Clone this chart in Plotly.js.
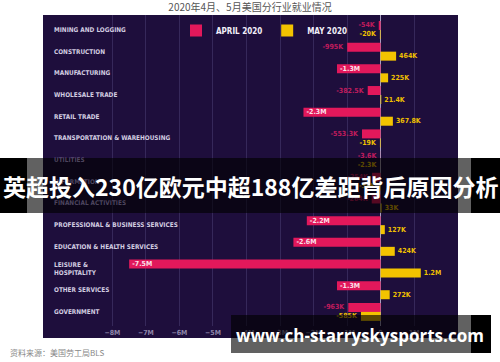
<!DOCTYPE html>
<html>
<head>
<meta charset="utf-8">
<script src="https://cdn.plot.ly/plotly-3.0.1.min.js"></script>
<style>html,body{margin:0;padding:0;background:#fff;}#chart{width:500px;height:362px;}</style>
</head>
<body>
<div id="chart"></div>
<script>
// ---- data ----
const categories = [
  'MINING AND LOGGING', 'CONSTRUCTION', 'MANUFACTURING', 'WHOLESALE TRADE', 'RETAIL TRADE',
  'TRANSPORTATION &amp; WAREHOUSING', 'UTILITIES', 'INFORMATION', 'FINANCIAL ACTIVITIES',
  'PROFESSIONAL &amp; BUSINESS SERVICES', 'EDUCATION &amp; HEALTH SERVICES', 'LEISURE &amp;<br>HOSPITALITY',
  'OTHER SERVICES', 'GOVERNMENT'
];
const april2020 = [-54000, -995000, -1300000, -382500, -2300000, -553300, -3600, -254000, -264000,
  -2200000, -2600000, -7500000, -1300000, -963000];
const may2020 = [-20000, 464000, 225000, 21400, 367800, -19000, -2300, -36000, 33000,
  127000, 424000, 1200000, 272000, -585000];
const tickVals = [-8e6, -7e6, -6e6, -5e6, -4e6, -3e6, -2e6, -1e6, 0, 1e6];
const tickText = ['\u22128M', '\u22127M', '\u22126M', '\u22125M', '\u22124M', '\u22123M', '\u22122M', '\u22121M', '0', '1M'];
const seriesNames = ['APRIL 2020', 'MAY 2020'];
const chartTitle = '2020年4月、5月美国分行业就业情况';
const sourceText = '资料来源：美国劳工局BLS';
const bannerText = '英超投入230亿欧元中超188亿差距背后原因分析';
const watermarkText = 'www.ch-starryskysports.com';

// ---- helpers ----
function fmt(v) {
  if (Math.abs(v) >= 1e6) return (v / 1e6).toFixed(1) + 'M';
  return parseFloat((v / 1e3).toFixed(1)) + 'K';
}
const W = 500, H = 362, ML = 43, MR = 42, MT = 15, MB = 36;
const PW = W - ML - MR, PH = H - MT - MB;
const Y_RANGE = [13.65, -0.69];
function px(x) { return (x - ML) / PW; }
function py(y) { return (H - MB - y) / PH; }
// pixel row of a category index (for deciding which labels sit under the banner)
function rowPx(i) { return MT + (i - Y_RANGE[1]) / (Y_RANGE[0] - Y_RANGE[1]) * PH; }
const BANNER = [158, 213];

const narrow = '"Liberation Sans Narrow", "DejaVu Sans Condensed", Roboto, sans-serif';
const cjk = '"Noto Sans CJK SC", sans-serif';
const panel = '#1e0e3c';

const traceApril = {
  type: 'bar', orientation: 'h', name: seriesNames[0],
  y: categories, x: april2020,
  marker: {color: '#e2185b'},
  text: april2020.map(fmt),
  textposition: april2020.map(v => Math.abs(v) >= 1e6 ? 'inside' : 'outside'),
  insidetextanchor: 'end',
  insidetextfont: {family: narrow, size: 7, color: '#fbe0ea', weight: 'bold'},
  outsidetextfont: {family: narrow, size: 7, color: '#c01c5c', weight: 'bold'},
  cliponaxis: false, constraintext: 'none', hoverinfo: 'skip'
};
const traceMay = {
  type: 'bar', orientation: 'h', name: seriesNames[1],
  y: categories, x: may2020,
  marker: {color: '#f3c300'},
  text: may2020.map(fmt),
  textposition: 'outside',
  outsidetextfont: {family: narrow, size: 7, color: '#f0c000', weight: 'bold'},
  cliponaxis: false, constraintext: 'none', hoverinfo: 'skip'
};

const categoryLabels = categories.map((c, i) => {
  const r = rowPx(i);
  const under = r > BANNER[0] && r < BANNER[1];
  return {
    text: c, xref: 'paper', yref: 'y', x: px(52), y: c,
    xanchor: 'left', yanchor: 'middle', align: 'left', showarrow: false,
    font: {family: narrow, size: 6.4, weight: 'bold',
      color: under ? 'rgba(160,150,185,0.45)' : '#d2cce0'}
  };
});

const layout = {
  width: W, height: H,
  margin: {l: ML, r: MR, t: MT, b: MB, pad: 0},
  paper_bgcolor: '#ffffff',
  plot_bgcolor: panel,
  barmode: 'group', bargap: 0.17, bargroupgap: 0,
  title: {text: chartTitle, x: 0.5, xanchor: 'center', y: 1 - 7 / H, yanchor: 'middle',
    font: {family: cjk, size: 10, color: '#555555'}},
  showlegend: true,
  legend: {orientation: 'h', x: px(176), y: py(16), xanchor: 'left', yanchor: 'top',
    bgcolor: 'rgba(0,0,0,0)', itemwidth: 30, tracegroupgap: 0,
    font: {family: narrow, size: 8, color: '#f2eef8', weight: 'bold'}},
  xaxis: {
    range: [-10.07e6, 2.31e6], autorange: false,
    tickvals: tickVals, ticktext: tickText,
    ticks: '', ticklabelstandoff: 1,
    tickfont: {family: narrow, size: 7, color: '#8f86aa', weight: 'bold'},
    showgrid: true, gridcolor: '#36285a', gridwidth: 1,
    zeroline: true, zerolinecolor: '#a79ec0', zerolinewidth: 1,
    showline: false, fixedrange: true
  },
  yaxis: {
    type: 'category', categoryorder: 'array', categoryarray: categories,
    range: Y_RANGE, autorange: false,
    showticklabels: false, ticks: '',
    showgrid: false, zeroline: false, showline: false, fixedrange: true
  },
  shapes: [
    // dark panel behind the whole chart including the tick-label strip
    {type: 'rect', xref: 'paper', yref: 'paper', x0: px(43), x1: px(458), y0: py(338), y1: py(15),
      fillcolor: panel, line: {width: 0}, layer: 'below'},
    // overlay banner across the middle
    {type: 'rect', xref: 'paper', yref: 'paper', x0: px(0), x1: px(500), y0: py(BANNER[1]), y1: py(BANNER[0]),
      fillcolor: 'rgba(0,0,0,0.62)', line: {width: 0}, layer: 'above'},
    {type: 'rect', xref: 'paper', yref: 'paper', x0: px(0), x1: px(27), y0: py(BANNER[1]), y1: py(BANNER[0]),
      fillcolor: '#000000', line: {width: 0}, layer: 'above'},
    {type: 'rect', xref: 'paper', yref: 'paper', x0: px(471), x1: px(500), y0: py(BANNER[1]), y1: py(BANNER[0]),
      fillcolor: '#000000', line: {width: 0}, layer: 'above'},
    // watermark band at the bottom right
    {type: 'rect', xref: 'paper', yref: 'paper', x0: px(231), x1: px(471), y0: py(353), y1: py(315),
      fillcolor: 'rgba(0,0,0,0.62)', line: {width: 0}, layer: 'above'},
    {type: 'rect', xref: 'paper', yref: 'paper', x0: px(471), x1: px(491), y0: py(353), y1: py(315),
      fillcolor: '#000000', line: {width: 0}, layer: 'above'}
  ],
  annotations: categoryLabels.concat([
    {text: bannerText, xref: 'paper', yref: 'paper', x: px(250), y: py(186),
      xanchor: 'center', yanchor: 'middle', showarrow: false,
      font: {family: cjk, size: 23, color: '#ffffff', weight: 'bold'}},
    {text: watermarkText, xref: 'paper', yref: 'paper', x: px(360), y: py(335),
      xanchor: 'center', yanchor: 'middle', showarrow: false,
      font: {family: '"Open Sans", "Noto Sans", sans-serif', size: 17, color: '#ffffff', weight: 'bold'}},
    {text: sourceText, xref: 'paper', yref: 'paper', x: px(8), y: py(352),
      xanchor: 'left', yanchor: 'middle', showarrow: false,
      font: {family: cjk, size: 8, color: '#888888'}}
  ])
};

Plotly.newPlot('chart', [traceApril, traceMay], layout, {staticPlot: true, displayModeBar: false});
</script>
</body>
</html>
